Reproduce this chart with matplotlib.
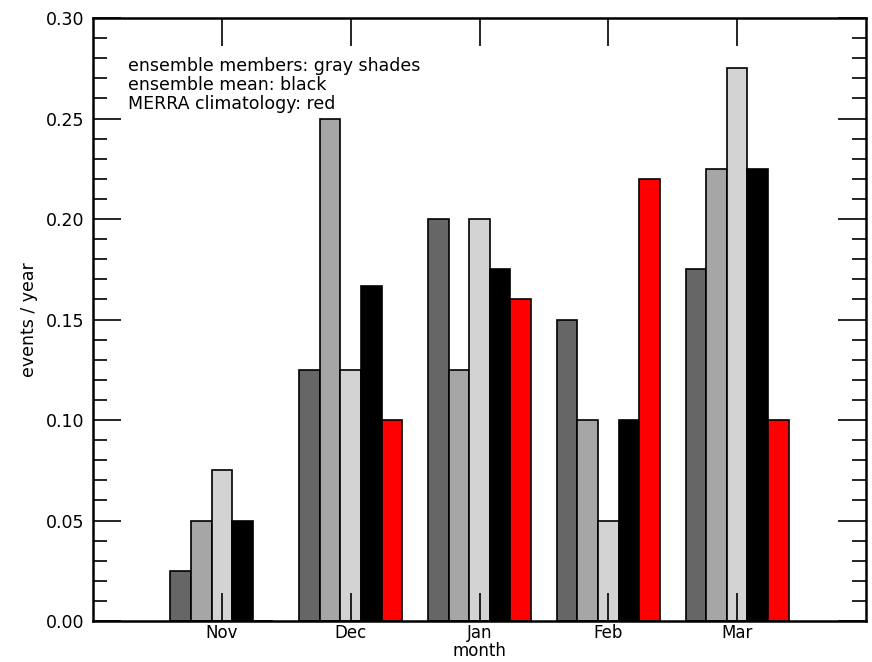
import matplotlib
matplotlib.use("Agg")
import matplotlib.pyplot as plt
import numpy as np
from matplotlib.ticker import MultipleLocator, FormatStrFormatter

months = ["Nov", "Dec", "Jan", "Feb", "Mar"]
member1 = [0.025, 0.125, 0.200, 0.150, 0.175]
member2 = [0.050, 0.250, 0.125, 0.100, 0.225]
member3 = [0.075, 0.125, 0.200, 0.050, 0.275]
ens_mean = [0.050, 0.1667, 0.175, 0.100, 0.225]
merra = [0.000, 0.100, 0.160, 0.220, 0.100]

series = [member1, member2, member3, ens_mean, merra]
colors = ["#666666", "#a6a6a6", "#d3d3d3", "#000000", "#ff0000"]

fig = plt.figure(figsize=(8.72, 6.62), dpi=100)
ax = fig.add_axes([0.1067, 0.0619, 0.8864, 0.9109])
ax.set_axisbelow(False)

x = np.arange(len(months))
w = 0.16
for i, (vals, c) in enumerate(zip(series, colors)):
    ax.bar(x + (i - 2) * w, vals, width=w, color=c, edgecolor="black",
           linewidth=1.2, zorder=2)

ax.set_xlim(-1, 5)
ax.set_ylim(0, 0.30)
ax.set_xticks(x)
ax.set_xticklabels(months)
ax.yaxis.set_major_locator(MultipleLocator(0.05))
ax.yaxis.set_minor_locator(MultipleLocator(0.01))
ax.yaxis.set_major_formatter(FormatStrFormatter("%.2f"))

fs = 12.5
ax.tick_params(axis="both", which="major", direction="in", length=20,
               width=1.2, labelsize=fs)
ax.tick_params(axis="x", top=True, bottom=True, pad=2, labelsize=12)
ax.tick_params(axis="y", which="major", pad=6)
ax.tick_params(axis="y", which="both", left=True, right=True)
ax.tick_params(axis="y", which="minor", direction="in", length=10, width=1.2)
ax.tick_params(axis="x", which="minor", bottom=False, top=False)

for sp in ax.spines.values():
    sp.set_linewidth(1.8)

ax.set_ylabel("events / year", fontsize=fs, labelpad=6)
ax.set_xlabel("month", fontsize=12, labelpad=0)

ax.text(0.045, 0.935, "ensemble members: gray shades\nensemble mean: black\nMERRA climatology: red",
        transform=ax.transAxes, fontsize=fs, va="top", ha="left",
        linespacing=1.05)

fig.savefig("out.png", dpi=100)
